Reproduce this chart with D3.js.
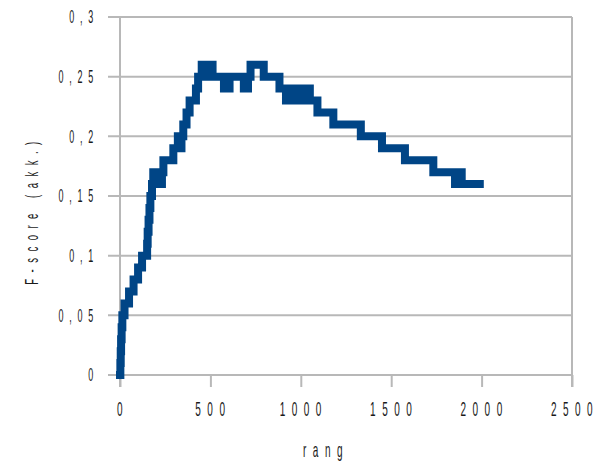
<!DOCTYPE html>
<html>
<head>
<meta charset="utf-8">
<script src="https://cdn.jsdelivr.net/npm/d3@7"></script>
<style>
  html, body { margin: 0; padding: 0; background: #fff; }
  svg { display: block; }
  text { font-family: "Liberation Sans", Arial, sans-serif; fill: #1a1a1a; }
</style>
</head>
<body>
<svg id="chart" width="606" height="469"></svg>
<script>
// rank where the cumulative F-score changes, and the value from that rank on
const ranks = [0, 2, 4, 6, 9, 13, 25, 50, 75, 100, 122, 150, 153, 158, 163, 168, 177, 184, 200, 210,
  225, 232, 240, 295, 320, 330, 340, 350, 368, 385, 420, 432, 452, 470, 475, 512, 575, 606, 685, 708,
  722, 795, 882, 918, 935, 950, 965, 985, 1000, 1015, 1030, 1050, 1092, 1180, 1332, 1449, 1576,
  1733, 1853, 1862, 1872, 1880, 1890, 1990]
const fscores = [0, 0.01, 0.02, 0.03, 0.04, 0.05, 0.06, 0.07, 0.08, 0.09, 0.10, 0.11, 0.12, 0.13, 0.14, 0.15, 0.16, 0.17, 0.16, 0.17,
  0.16, 0.17, 0.18, 0.19, 0.20, 0.19, 0.20, 0.21, 0.22, 0.23, 0.24, 0.25, 0.26, 0.25, 0.26, 0.25, 0.24, 0.25, 0.24, 0.25,
  0.26, 0.25, 0.24, 0.23, 0.24, 0.23, 0.24, 0.23, 0.24, 0.23, 0.24, 0.23, 0.22, 0.21, 0.20, 0.19, 0.18,
  0.17, 0.16, 0.17, 0.16, 0.17, 0.16, 0.16]

const xTicks = [0, 500, 1000, 1500, 2000, 2500]
const yTicks = [0, 0.05, 0.1, 0.15, 0.2, 0.25, 0.3]
const yTickLabels = ["0", "0,05", "0,1", "0,15", "0,2", "0,25", "0,3"]
const xTitle = "rang"
const yTitle = "F-score (akk.)"

const plotLeft = 120, plotRight = 572, plotTop = 17, plotBottom = 375
const gridColor = "#b8b8b8"
const lineColor = "#004586"

const svg = d3.select("#chart")

const x = d3.scaleLinear().domain([0, 2500]).range([plotLeft, plotRight])
const y = d3.scaleLinear().domain([0, 0.3]).range([plotBottom, plotTop])

// horizontal gridlines (they run out past the axis as tick stubs)
svg.append("g")
  .selectAll("line")
  .data(yTicks)
  .join("line")
  .attr("x1", plotLeft - 12)
  .attr("x2", plotRight)
  .attr("y1", (d) => y(d))
  .attr("y2", (d) => y(d))
  .attr("stroke", gridColor)
  .attr("stroke-width", 2)

// x ticks below the axis
const xAxis = svg.append("g")
  .attr("transform", `translate(0,${plotBottom})`)
  .call(d3.axisBottom(x).tickValues(xTicks).tickSize(12).tickFormat(""))
xAxis.select(".domain").remove()
xAxis.selectAll(".tick line").attr("stroke", gridColor).attr("stroke-width", 2)

// y axis line and right border
svg.append("g")
  .selectAll("line")
  .data([plotLeft, plotRight])
  .join("line")
  .attr("x1", (d) => d)
  .attr("x2", (d) => d)
  .attr("y1", plotTop)
  .attr("y2", plotBottom + 12)
  .attr("stroke", gridColor)
  .attr("stroke-width", 2)

// condensed, letter-spaced labels
const sx = 0.5

svg.append("g")
  .selectAll("text")
  .data(yTicks)
  .join("text")
  .attr("transform", (d) => `translate(99,${y(d)}) scale(${sx},1)`)
  .attr("text-anchor", "end")
  .attr("dy", "0.36em")
  .style("font-size", "18px")
  .style("letter-spacing", "11.5px")
  .text((d, i) => yTickLabels[i])

svg.append("g")
  .selectAll("text")
  .data(xTicks)
  .join("text")
  .attr("transform", (d) => `translate(${x(d) + 3},416) scale(${sx},1)`)
  .attr("text-anchor", "middle")
  .style("font-size", "20px")
  .style("letter-spacing", "13px")
  .text((d) => d)

svg.append("text")
  .attr("transform", `translate(326,457) scale(${sx},1)`)
  .attr("text-anchor", "middle")
  .style("font-size", "20px")
  .style("letter-spacing", "13px")
  .text(xTitle)

svg.append("text")
  .attr("transform", `translate(38,210) rotate(-90) scale(${sx},1)`)
  .attr("text-anchor", "middle")
  .style("font-size", "19px")
  .style("letter-spacing", "13px")
  .text(yTitle)

// the series
const pts = ranks.map((r, i) => [r, fscores[i]])
const line = d3.line()
  .x((d) => x(d[0]))
  .y((d) => y(d[1]))
  .curve(d3.curveStepAfter)

svg.append("path")
  .datum(pts)
  .attr("d", line)
  .attr("fill", "none")
  .attr("stroke", lineColor)
  .attr("stroke-width", 8)
  .attr("stroke-linejoin", "miter")
  .attr("stroke-linecap", "square")
</script>
</body>
</html>
